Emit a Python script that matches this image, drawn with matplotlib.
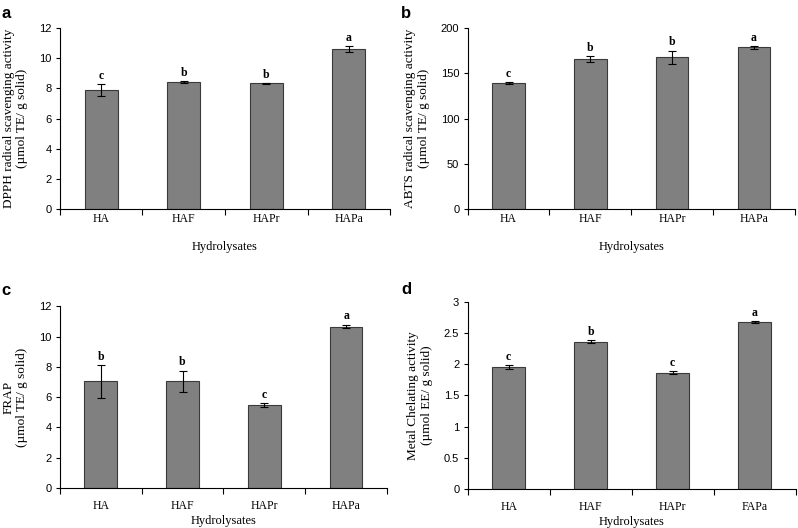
"""
Antioxidant activity of the protein hydrolysates (four panels a-d).

Output:
- out.png
"""

import matplotlib
matplotlib.use("Agg")
import matplotlib.pyplot as plt


CATEGORIES = ["HA", "HAF", "HAPr", "HAPa"]
CATEGORIES_D = ["HA", "HAF", "HAPr", "FAPa"]

DPPH = [7.9, 8.43, 8.33, 10.62]
DPPH_ERR = [0.4, 0.07, 0.04, 0.2]
DPPH_LETTERS = ["c", "b", "b", "a"]

ABTS = [139.0, 165.5, 167.5, 178.5]
ABTS_ERR = [1.0, 3.5, 7.5, 1.5]
ABTS_LETTERS = ["c", "b", "b", "a"]

FRAP = [7.03, 7.03, 5.45, 10.66]
FRAP_ERR = [1.1, 0.72, 0.13, 0.13]
FRAP_LETTERS = ["b", "b", "c", "a"]

METAL = [1.955, 2.365, 1.865, 2.675]
METAL_ERR = [0.03, 0.025, 0.025, 0.015]
METAL_LETTERS = ["c", "b", "c", "a"]

SERIF = "Liberation Serif"
SANS = "Liberation Sans"


def draw_panel(fig, rect, tag, tag_xy, values, errors, letters, labels,
               ylabel, ymax, ystep, letter_pad, cat_pad, x_labelpad):
    ax = fig.add_axes(rect)
    xs = list(range(len(values)))
    ax.bar(xs, values, width=0.4, color="#808080", edgecolor="#3a3a3a",
           linewidth=0.8, zorder=2)
    ax.errorbar(xs, values, yerr=errors, fmt="none", ecolor="black",
                elinewidth=0.8, capsize=3, capthick=0.8, zorder=3)

    for x, v, e, lab in zip(xs, values, errors, letters):
        ax.text(x, v + e + letter_pad, lab, ha="center", va="bottom",
                fontsize=8.5, fontweight="bold", family=SERIF)

    ax.set_xlim(-0.5, len(values) - 0.5)
    ax.set_ylim(0, ymax)
    ticks = [i * ystep for i in range(int(round(ymax / ystep)) + 1)]
    ax.set_yticks(ticks)
    ax.set_yticklabels([f"{t:g}" for t in ticks], family=SANS, fontsize=8)

    # category labels without ticks, ticks on the boundaries instead
    ax.set_xticks(xs)
    ax.set_xticklabels(labels, family=SERIF, fontsize=8.5)
    ax.tick_params(axis="x", which="major", length=0, pad=cat_pad)
    ax.set_xticks([i + 0.5 for i in range(-1, len(values))], minor=True)
    ax.tick_params(axis="x", which="minor", length=4, width=0.8,
                   direction="out")
    ax.tick_params(axis="y", length=3, width=0.8, direction="out", pad=3)

    ax.spines["top"].set_visible(False)
    ax.spines["right"].set_visible(False)
    ax.spines["left"].set_linewidth(0.8)
    ax.spines["bottom"].set_linewidth(0.8)

    ax.set_xlabel("Hydrolysates", family=SERIF, fontsize=9,
                  labelpad=x_labelpad)
    ax.set_ylabel(ylabel, family=SERIF, fontsize=9.5, labelpad=8,
                  linespacing=1.15)

    fig.text(tag_xy[0], tag_xy[1], tag, fontsize=12, fontweight="bold",
             family=SANS, ha="left", va="center")
    return ax


def main():
    fig = plt.figure(figsize=(7.98, 5.28), dpi=100)

    draw_panel(fig, [0.075, 0.604, 0.414, 0.343], "a", (0.002, 0.975),
               DPPH, DPPH_ERR, DPPH_LETTERS, CATEGORIES,
               "DPPH radical scavenging activity\n(\u00b5mol TE/ g solid)",
               12, 2, 0.15, 3, 11)
    draw_panel(fig, [0.586, 0.604, 0.410, 0.343], "b", (0.503, 0.975),
               ABTS, ABTS_ERR, ABTS_LETTERS, CATEGORIES,
               "ABTS radical scavenging activity\n(\u00b5mol TE/ g solid)",
               200, 50, 2.5, 3, 11)
    draw_panel(fig, [0.075, 0.076, 0.410, 0.344], "c", (0.002, 0.449),
               FRAP, FRAP_ERR, FRAP_LETTERS, CATEGORIES,
               "FRAP\n(\u00b5mol TE/ g solid)",
               12, 2, 0.15, 9, 2)
    draw_panel(fig, [0.586, 0.074, 0.411, 0.354], "d", (0.503, 0.451),
               METAL, METAL_ERR, METAL_LETTERS, CATEGORIES_D,
               "Metal Chelating activity\n(\u00b5mol EE/ g solid)",
               3, 0.5, 0.04, 9, 2)

    fig.savefig("out.png", dpi=100)
    plt.close(fig)


if __name__ == "__main__":
    main()
